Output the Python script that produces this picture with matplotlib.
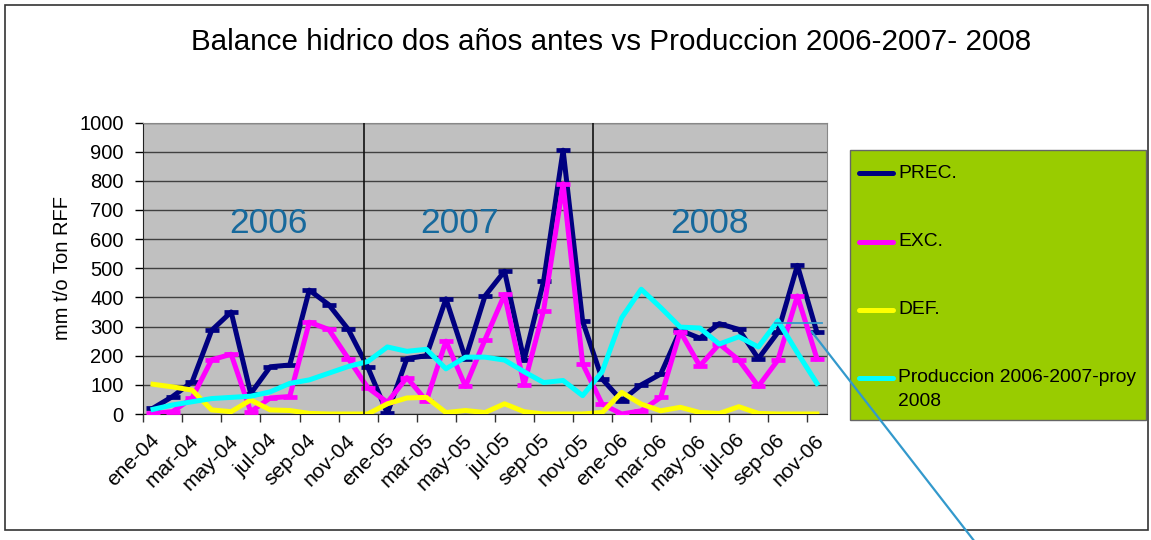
import matplotlib
matplotlib.use("Agg")
import matplotlib.pyplot as plt
from matplotlib.lines import Line2D
from matplotlib.patches import Rectangle
import matplotlib.transforms as mtransforms
import numpy as np

plt.rcParams['font.family'] = ['Liberation Sans', 'DejaVu Sans']

months = ['ene', 'feb', 'mar', 'abr', 'may', 'jun', 'jul', 'ago', 'sep', 'oct', 'nov', 'dic']
categories = [f"{m}-{y}" for y in ['04', '05', '06'] for m in months][:35]

prec = [20, 60, 110, 287, 350, 70, 162, 168, 425, 375, 290, 160,
        2, 190, 200, 395, 190, 405, 490, 185, 455, 905, 318, 120,
        46, 100, 137, 287, 260, 310, 290, 190, 280, 510, 280]
exc = [2, 8, 55, 186, 205, 8, 55, 60, 315, 290, 190, 90,
       40, 125, 45, 250, 95, 255, 410, 100, 355, 790, 172, 34,
       0, 11, 57, 283, 165, 240, 185, 95, 185, 405, 190]
deficit = [102, 93, 82, 14, 8, 48, 14, 12, 2, 0, 0, 0,
           35, 55, 57, 5, 12, 5, 35, 8, 0, 0, 0, 5,
           74, 34, 11, 23, 5, 2, 25, 2, 0, 0, 0]
produccion = [16, 31, 42, 53, 57, 61, 76, 105, 117, 140, 163, 180,
              230, 215, 222, 155, 195, 195, 185, 145, 108, 115, 63, 145,
              330, 428, 365, 298, 295, 240, 265, 230, 320, 210, 105]

series_labels = ['PREC.', 'EXC.', 'DEF.', 'Produccion 2006-2007-proy\n2008']
year_labels = ['2006', '2007', '2008']
title = 'Balance hidrico dos años antes vs Produccion 2006-2007- 2008'
ylabel = 'mm t/o Ton RFF'

W, H = 1151, 540
fig = plt.figure(figsize=(W / 100, H / 100), dpi=100)
fig.patch.set_facecolor('white')

def fx(px):
    return px / W

def fy(py):
    return 1 - py / H

ax = fig.add_axes([fx(143.3), fy(414), fx(826.7) - fx(143.3), fy(122.5) - fy(414)])
ax.set_facecolor('#C0C0C0')

x = np.arange(len(categories))
colors = ['#000080', '#FF00FF', '#FFFF00', '#00FFFF']
lw = 3.6
ax.plot(x, prec, color=colors[0], lw=lw, marker='_', ms=10, mew=3.4, zorder=3,
        solid_joinstyle='round')
ax.plot(x, exc, color=colors[1], lw=lw, marker='_', ms=10, mew=3.4, zorder=4,
        solid_joinstyle='round')
ax.plot(x, deficit, color=colors[2], lw=lw, zorder=5, solid_joinstyle='round')
ax.plot(x, produccion, color=colors[3], lw=lw, zorder=6, solid_joinstyle='round')

ax.set_xlim(-0.5, len(categories) - 0.5)
ax.set_ylim(0, 1000)
ax.set_yticks(np.arange(0, 1001, 100))
ax.tick_params(axis='y', labelsize=14.5, length=6, width=1, pad=8, colors='black')
ax.grid(axis='y', color='#404040', lw=1.0, zorder=1)
ax.set_axisbelow(True)

ax.set_xticks(x[::2])
ax.set_xticklabels(categories[::2], rotation=45, ha='right', va='top',
                   rotation_mode='anchor', fontsize=15)
ax.tick_params(axis='x', which='major', length=0, pad=12)
ax.set_xticks(np.arange(-0.5, len(categories), 2), minor=True)
ax.tick_params(axis='x', which='minor', length=6, width=1, color='#333333')
shift = mtransforms.ScaledTranslation(-3 / 100, 0, fig.dpi_scale_trans)
for lbl in ax.get_xticklabels():
    lbl.set_transform(lbl.get_transform() + shift)

for side in ['top', 'right']:
    ax.spines[side].set_color('#888888')
ax.spines['left'].set_color('#222222')
ax.spines['bottom'].set_color('#222222')

fig.text(fx(62), fy(268), ylabel, rotation=90, ha='center', va='center', fontsize=14.5)

# section dividers
for xd in [10.8, 22.55]:
    ax.plot([xd, xd], [0, 1000], color='#111111', lw=1.2, zorder=7)

# year labels
for xpx, lab in zip([268, 460, 710], year_labels):
    fig.text(fx(xpx), fy(224), lab, ha='center', va='center', fontsize=25.5, color='#17699C')

fig.text(fx(611), fy(42), title, ha='center', va='center', fontsize=21.3)

# legend box
leg = Rectangle((fx(850), fy(420)), fx(1146) - fx(850), fy(150) - fy(420),
                transform=fig.transFigure, facecolor='#99CC00', edgecolor='#666666', lw=1)
fig.add_artist(leg)
entry_y = [173, 242, 310, 378]
for yy, c, lab in zip(entry_y, colors, series_labels):
    fig.add_artist(Line2D([fx(859), fx(893)], [fy(yy), fy(yy)], transform=fig.transFigure,
                          color=c, lw=lw, solid_capstyle='round'))
    for k, part in enumerate(lab.split('\n')):
        fig.text(fx(898), fy(yy + 23 * k), part, ha='left', va='center', fontsize=13.9)

# callout lines
fig.add_artist(Line2D([fx(775), fx(822)], [fy(323), fy(323)], transform=fig.transFigure,
                      color='#3399CC', lw=1.3))
fig.add_artist(Line2D([fx(811.7), fx(975)], [fy(331.7), fy(542)], transform=fig.transFigure,
                      color='#3399CC', lw=1.6))

# outer frame
fig.add_artist(Rectangle((fx(5), fy(530)), fx(1148) - fx(5), fy(5) - fy(530),
                         transform=fig.transFigure, facecolor='none', edgecolor='#333333', lw=1.2))

fig.savefig('out.png', dpi=100)
